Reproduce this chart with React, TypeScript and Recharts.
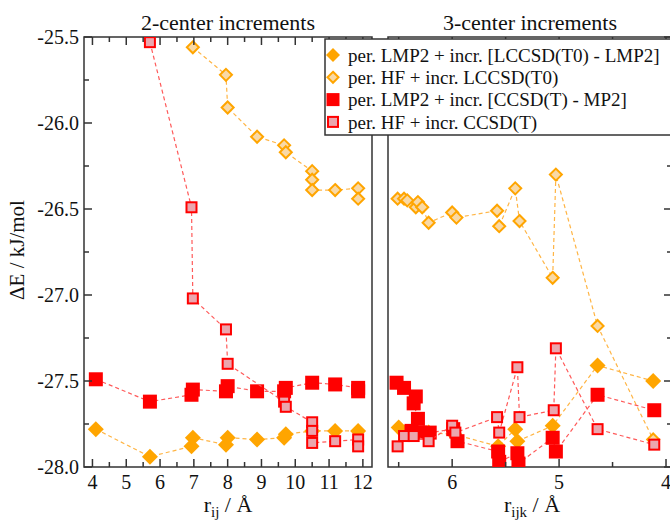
import React from "react";
import { ScatterChart, Scatter, XAxis, YAxis, ReferenceArea } from "recharts";

// 2-center increments: [r_ij (Å), ΔE (kJ/mol)]
const twoLmp2Lccsd = [[4.1, -27.78], [5.7, -27.94], [6.93, -27.88], [6.97, -27.83], [7.95, -27.87], [8.0, -27.83], [8.87, -27.84], [9.67, -27.83], [9.72, -27.81], [10.5, -27.79], [11.18, -27.79], [11.86, -27.79]];
const twoHfLccsd = [[6.97, -25.56], [7.95, -25.72], [8.0, -25.91], [8.87, -26.08], [9.67, -26.13], [9.72, -26.17], [10.5, -26.28], [10.5, -26.33], [10.5, -26.39], [11.18, -26.39], [11.86, -26.38], [11.86, -26.44]];
const twoLmp2Ccsd = [[4.1, -27.49], [5.7, -27.62], [6.93, -27.58], [6.97, -27.55], [7.95, -27.56], [8.0, -27.53], [8.87, -27.56], [9.67, -27.56], [9.72, -27.54], [10.5, -27.51], [11.18, -27.52], [11.86, -27.54], [11.86, -27.56]];
const twoHfCcsd = [[5.7, -25.53], [6.93, -26.49], [6.97, -27.02], [7.95, -27.2], [8.0, -27.4], [9.67, -27.62], [9.72, -27.65], [10.5, -27.74], [10.5, -27.79], [10.5, -27.86], [11.18, -27.85], [11.86, -27.84], [11.86, -27.88]];

// 3-center increments: [r_ijk (Å), ΔE (kJ/mol)]
const threeLmp2Lccsd = [[6.5, -27.77], [6.45, -27.8], [6.34, -27.8], [6.22, -27.8], [5.98, -27.81], [5.57, -27.88], [5.41, -27.78], [5.39, -27.85], [5.06, -27.76], [4.64, -27.41], [4.12, -27.5]];
const threeHfLccsd = [[6.51, -26.44], [6.45, -26.44], [6.42, -26.45], [6.34, -26.49], [6.32, -26.46], [6.28, -26.49], [6.22, -26.58], [6.0, -26.52], [5.96, -26.55], [5.58, -26.51], [5.56, -26.6], [5.41, -26.38], [5.37, -26.57], [5.06, -26.9], [5.03, -26.3], [4.64, -27.18], [4.12, -27.84]];
const threeLmp2Ccsd = [[6.52, -27.51], [6.45, -27.54], [6.34, -27.59], [6.36, -27.63], [6.32, -27.72], [6.38, -27.79], [6.3, -27.8], [6.21, -27.8], [5.99, -27.78], [5.95, -27.85], [5.57, -27.91], [5.56, -27.97], [5.39, -27.92], [5.38, -27.98], [5.06, -27.83], [5.03, -27.91], [4.64, -27.58], [4.11, -27.67]];
const threeHfCcsd = [[6.51, -27.88], [6.45, -27.82], [6.36, -27.82], [6.22, -27.85], [6.0, -27.76], [5.97, -27.8], [5.58, -27.71], [5.56, -27.8], [5.39, -27.42], [5.37, -27.71], [5.05, -27.67], [5.03, -27.31], [4.64, -27.78], [4.11, -27.87]];

const leftXTicks = [4, 4.5, 5, 5.5, 6, 6.5, 7, 7.5, 8, 8.5, 9, 9.5, 10, 10.5, 11, 11.5, 12];
const rightXTicks = [4, 4.5, 5, 5.5, 6, 6.5];
const yTicks = [-28, -27.75, -27.5, -27.25, -27, -26.75, -26.5, -26.25, -26, -25.75, -25.5];

const legendLabels = [
  "per. LMP2 + incr. [LCCSD(T0) - LMP2]",
  "per. HF + incr. LCCSD(T0)",
  "per. LMP2 + incr. [CCSD(T) - MP2]",
  "per. HF + incr. CCSD(T)",
];

const ORANGE = "#FFA500";
const ORANGE_LIGHT = "#F9D9A6";
const RED = "#FF0000";
const RED_LIGHT = "#EBA6AE";
const AXIS = "#333";
const FONT = "'Liberation Serif', 'Times New Roman', serif";

const PLOT_TOP = 37;
const PLOT_BOTTOM = 467;

const toPts = (arr: number[][]) => arr.map(([x, y]) => ({ x, y }));
const isMajor = (v: number, step: number) => Math.abs(v / step - Math.round(v / step)) < 1e-6;

// marker shapes
const diamond = (cx: number, cy: number, r: number, fill: string, stroke?: string, sw = 0) => (
  <polygon points={`${cx},${cy - r} ${cx + r},${cy} ${cx},${cy + r} ${cx - r},${cy}`} fill={fill} stroke={stroke} strokeWidth={sw} />
);
const square = (cx: number, cy: number, h: number, fill: string, stroke?: string, sw = 0) => (
  <rect x={cx - h} y={cy - h} width={2 * h} height={2 * h} fill={fill} stroke={stroke} strokeWidth={sw} />
);

const filledDiamond = (p: any) => diamond(p.cx, p.cy, 8, ORANGE);
const openDiamond = (p: any) => diamond(p.cx, p.cy, 6, ORANGE_LIGHT, ORANGE, 2);
const filledSquare = (p: any) => square(p.cx, p.cy, 7, RED);
const openSquare = (p: any) => square(p.cx, p.cy, 5, RED_LIGHT, RED, 2);

const orangeLine = { stroke: "#FFB545", strokeWidth: 1.2, strokeDasharray: "4 3" };
const redLine = { stroke: "#FF5A5A", strokeWidth: 1.2, strokeDasharray: "4 3" };

const XTick = (props: any) => {
  const { x, payload } = props;
  const v = payload.value;
  const major = isMajor(v, 1);
  const len = major ? 8 : 5;
  return (
    <g>
      <line x1={x} x2={x} y1={PLOT_BOTTOM} y2={PLOT_BOTTOM - len} stroke={AXIS} strokeWidth={1.5} />
      <line x1={x} x2={x} y1={PLOT_TOP} y2={PLOT_TOP + len} stroke={AXIS} strokeWidth={1.5} />
      {major && (
        <text x={x} y={489} textAnchor="middle" fontSize={20} fontFamily={FONT} fill="#111">
          {v}
        </text>
      )}
    </g>
  );
};

const LeftYTick = (props: any) => {
  const { y, payload } = props;
  const v = payload.value;
  const major = isMajor(v, 0.5);
  const len = major ? 8 : 5;
  return (
    <g>
      <line x1={84} x2={84 + len} y1={y} y2={y} stroke={AXIS} strokeWidth={1.5} />
      {major && (
        <text x={79} y={y} dy="0.36em" textAnchor="end" fontSize={20} fontFamily={FONT} fill="#111">
          {v.toFixed(1)}
        </text>
      )}
    </g>
  );
};

const RightYTick = (props: any) => {
  const { y, payload } = props;
  const len = isMajor(payload.value, 0.5) ? 8 : 5;
  return <line x1={292} x2={292 - len} y1={y} y2={y} stroke={AXIS} strokeWidth={1.5} />;
};

const Panel = ({ width, yWidth, domain, reversed, ticks, yTick, series }: any) => (
  <ScatterChart width={width} height={521} margin={{ top: PLOT_TOP, right: 8, bottom: 0, left: 0 }}>
    <XAxis
      type="number"
      dataKey="x"
      domain={domain}
      allowDataOverflow
      reversed={reversed}
      ticks={ticks}
      interval={0}
      height={54}
      axisLine={false}
      tickLine={false}
      tick={<XTick />}
    />
    <YAxis
      type="number"
      dataKey="y"
      domain={[-28, -25.5]}
      allowDataOverflow
      ticks={yTicks}
      interval={0}
      width={yWidth}
      axisLine={false}
      tickLine={false}
      tick={yTick}
    />
    <ReferenceArea x1={domain[0]} x2={domain[1]} y1={-28} y2={-25.5} fill="none" stroke={AXIS} strokeWidth={1.5} />
    <Scatter data={toPts(series[0])} shape={filledDiamond} line={orangeLine} lineType="joint" isAnimationActive={false} />
    <Scatter data={toPts(series[1])} shape={openDiamond} line={orangeLine} lineType="joint" isAnimationActive={false} />
    <Scatter data={toPts(series[2])} shape={filledSquare} line={redLine} lineType="joint" isAnimationActive={false} />
    <Scatter data={toPts(series[3])} shape={openSquare} line={redLine} lineType="joint" isAnimationActive={false} />
  </ScatterChart>
);

const legendMarkers = [
  (cy: number) => diamond(333, cy, 7, ORANGE),
  (cy: number) => diamond(333, cy, 5.5, ORANGE_LIGHT, ORANGE, 2),
  (cy: number) => square(333, cy, 6.5, RED),
  (cy: number) => square(333, cy, 5, RED_LIGHT, RED, 2),
];

export default function App() {
  return (
    <div style={{ position: "absolute", left: 0, top: 0, width: 670, height: 521, overflow: "hidden", background: "#fff" }}>
      <div style={{ position: "absolute", left: 0, top: 0 }}>
        <Panel
          width={380}
          yWidth={84}
          domain={[3.75, 12.27]}
          reversed={false}
          ticks={leftXTicks}
          yTick={<LeftYTick />}
          series={[twoLmp2Lccsd, twoHfLccsd, twoLmp2Ccsd, twoHfCcsd]}
        />
      </div>
      <div style={{ position: "absolute", left: 380, top: 0 }}>
        <Panel
          width={300}
          yWidth={8}
          domain={[3.944, 6.6]}
          reversed
          ticks={rightXTicks}
          yTick={<RightYTick />}
          series={[threeLmp2Lccsd, threeHfLccsd, threeLmp2Ccsd, threeHfCcsd]}
        />
      </div>
      <svg width={670} height={521} style={{ position: "absolute", left: 0, top: 0, pointerEvents: "none" }} fontFamily={FONT}>
        <text x={228} y={30} textAnchor="middle" fontSize={22} fill="#111">2-center increments</text>
        <text x={530} y={30} textAnchor="middle" fontSize={22} fill="#111">3-center increments</text>
        <text x={228} y={512} textAnchor="middle" fontSize={22} fill="#111">
          r<tspan fontSize={15} dy={5}>ij</tspan>
          <tspan dy={-5}> / Å</tspan>
        </text>
        <text x={532} y={512} textAnchor="middle" fontSize={22} fill="#111">
          r<tspan fontSize={15} dy={5}>ijk</tspan>
          <tspan dy={-5}> / Å</tspan>
        </text>
        <text transform="translate(24,250) rotate(-90)" textAnchor="middle" fontSize={21} fill="#111">
          ΔE / kJ/mol
        </text>
        <rect x={325} y={39} width={360} height={96} fill="#fff" stroke={AXIS} strokeWidth={1.5} />
        {legendLabels.map((label, i) => {
          const cy = 55 + i * 22.3;
          return (
            <g key={label}>
              {legendMarkers[i](cy)}
              <text x={348} y={cy} dy="0.35em" fontSize={19} fill="#111">
                {label}
              </text>
            </g>
          );
        })}
      </svg>
    </div>
  );
}
